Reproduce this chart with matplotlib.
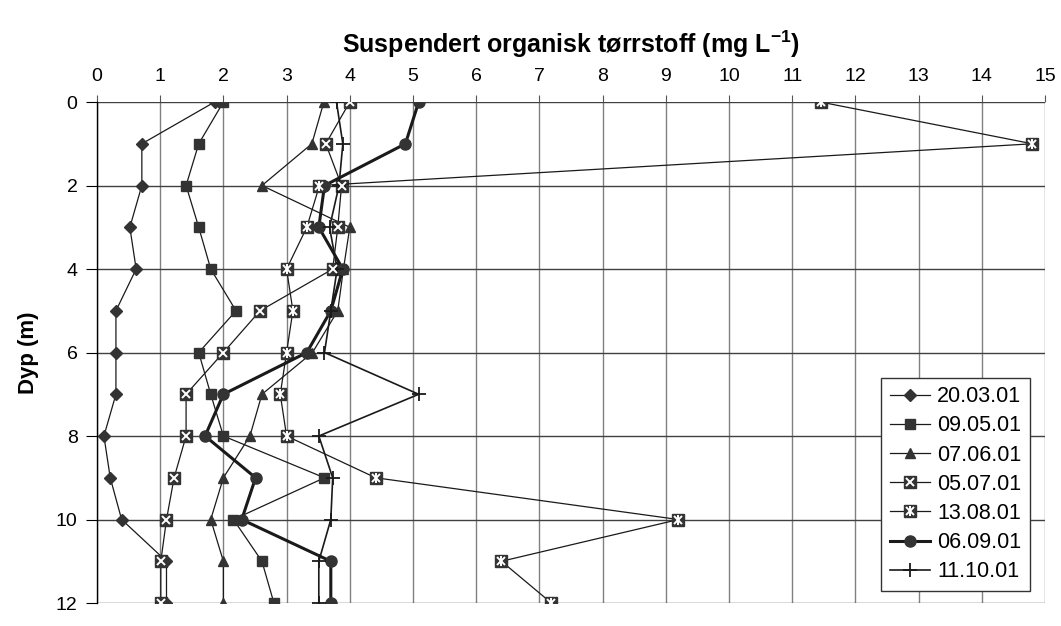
import numpy as np
import matplotlib
matplotlib.use('Agg')
import matplotlib.pyplot as plt

plt.rcParams['font.family'] = ['Liberation Sans', 'DejaVu Sans']
plt.rcParams['mathtext.fontset'] = 'custom'
plt.rcParams['mathtext.rm'] = 'Liberation Sans'
plt.rcParams['mathtext.bf'] = 'Liberation Sans:bold'

# Dybder (m)
dyp = [0, 1, 2, 3, 4, 5, 6, 7, 8, 9, 10, 11, 12]

# Suspendert organisk tørrstoff (mg/L) per dato
s_200301 = [1.86, 0.71, 0.71, 0.52, 0.62, 0.30, 0.30, 0.30, 0.11, 0.21, 0.39, 1.10, 1.10]
s_090501 = [2.0, 1.61, 1.41, 1.61, 1.80, 2.20, 1.61, 1.80, 2.0, 3.60, 2.16, 2.61, 2.80]
s_070601 = [3.59, 3.40, 2.61, 4.0, 3.90, 3.81, 3.41, 2.61, 2.42, 2.0, 1.80, 2.0, 2.0]
s_050701 = [4.0, 3.62, 3.87, 3.81, 3.73, 2.58, 2.0, 1.41, 1.41, 1.22, 1.10, 1.01, 1.01]
s_130801 = [11.45, 14.8, 3.52, 3.32, 3.0, 3.10, 3.0, 2.90, 3.0, 4.41, 9.2, 6.4, 7.19]
s_060901 = [5.09, 4.88, 3.60, 3.51, 3.89, 3.70, 3.32, 2.0, 1.71, 2.51, 2.29, 3.70, 3.70]
s_111001 = [3.79, 3.89, 3.83, 3.68, 3.80, 3.70, 3.60, 5.09, 3.51, 3.73, 3.70, 3.51, 3.51]

datoer = ['20.03.01', '09.05.01', '07.06.01', '05.07.01', '13.08.01', '06.09.01', '11.10.01']

fig = plt.figure(figsize=(10.61, 6.26), dpi=100)
ax = fig.add_axes([0.0914, 0.0367, 0.8935, 0.8003])

mc = '#333333'
lc = '#1a1a1a'
lw = 0.9

handles = []
h, = ax.plot(s_200301, dyp, '-', color=lc, lw=lw, marker='D', ms=6, mfc=mc, mec=mc, zorder=3)
handles.append(h)
h, = ax.plot(s_090501, dyp, '-', color=lc, lw=lw, marker='s', ms=7, mfc=mc, mec=mc, zorder=3)
handles.append(h)
h, = ax.plot(s_070601, dyp, '-', color=lc, lw=lw, marker='^', ms=7.5, mfc=mc, mec=mc, zorder=3)
handles.append(h)

# kvadrat med hvitt kryss
h1, = ax.plot(s_050701, dyp, '-', color=lc, lw=lw, marker='s', ms=8.5, mfc=mc, mec=mc, zorder=3)
h2, = ax.plot(s_050701, dyp, ' ', marker='x', ms=6, mec='white', mew=1.4, zorder=4)
handles.append((h1, h2))

# kvadrat med hvit stjerne
h1, = ax.plot(s_130801, dyp, '-', color=lc, lw=lw, marker='s', ms=8.5, mfc=mc, mec=mc, zorder=3)
h2, = ax.plot(s_130801, dyp, ' ', marker='x', ms=6, mec='white', mew=1.4, zorder=4)
h3, = ax.plot(s_130801, dyp, ' ', marker='|', ms=6.5, mec='white', mew=1.4, zorder=4)
handles.append((h1, h2, h3))

h, = ax.plot(s_060901, dyp, '-', color=lc, lw=2.2, marker='o', ms=8, mfc=mc, mec=mc, zorder=3)
handles.append(h)
h, = ax.plot(s_111001, dyp, '-', color=lc, lw=1.2, marker='+', ms=10, mec=lc, mew=1.3, zorder=3)
handles.append(h)

ax.set_xlim(0, 15)
ax.set_ylim(12, 0)
ax.set_xticks(np.arange(0, 16, 1))
ax.set_yticks(np.arange(0, 13, 2))
ax.xaxis.tick_top()
ax.xaxis.set_label_position('top')
ax.tick_params(axis='x', direction='out', length=5, pad=7, labelsize=14, color='#555555')
ax.tick_params(axis='y', direction='out', length=8, pad=6, labelsize=14)

ax.xaxis.grid(True, color='#808080', lw=1.0)
ax.yaxis.grid(True, color='#404040', lw=1.0)
ax.set_axisbelow(True)
for s in ['right', 'bottom', 'top']:
    ax.spines[s].set_visible(False)
ax.spines['left'].set_linewidth(1.0)

ax.set_xlabel(r'Suspendert organisk tørrstoff (mg L$^{\mathbf{-1}}$)', fontsize=18,
              fontweight='bold', labelpad=11)
ax.set_ylabel('Dyp (m)', fontsize=16, fontweight='bold', labelpad=12)

leg = ax.legend(handles, datoer, loc='lower right', bbox_to_anchor=(0.984, 0.024),
                fontsize=15.5, frameon=True, fancybox=False, handlelength=1.9,
                handletextpad=0.3, borderpad=0.4, labelspacing=0.38,
                borderaxespad=0.0)
leg.get_frame().set_edgecolor('#333333')
leg.get_frame().set_linewidth(1.0)
leg.get_frame().set_alpha(1)

fig.savefig('out.png', dpi=100)
